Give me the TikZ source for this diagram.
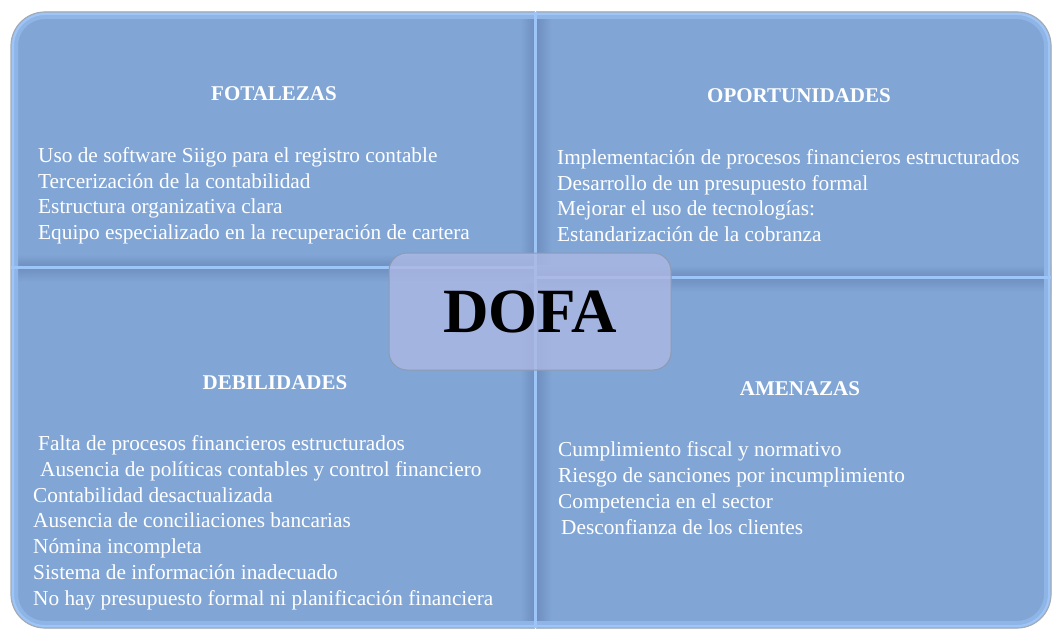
\documentclass[tikz,border=0pt]{standalone}
\usepackage{fontspec}
\setmainfont{Liberation Serif}
\definecolor{qfill}{HTML}{81A6D6}
\definecolor{qlight}{HTML}{9DC5F8}
\definecolor{qdark}{HTML}{6E8EBF}
\definecolor{qedge}{HTML}{A2AAB6}
\definecolor{cfill}{RGB}{173,184,227}
\definecolor{cedge}{HTML}{8E9AB2}
\tikzset{
  body/.style={anchor=base west, inner sep=0pt, text=white, font=\fontsize{21.3}{25}\selectfont},
  head/.style={anchor=base, inner sep=0pt, text=white, font=\fontsize{21}{25}\selectfont\bfseries},
  rim/.style={draw=qlight, line width=6pt},
  rimin/.style={draw=qlight!50!qfill, line width=14pt},
  outer/.style={draw=qedge, line width=1.2pt},
  divider/.style={draw=qlight, line width=3pt},
  centerbox/.style={draw=cedge, line width=1pt, fill=cfill, fill opacity=0.8, text opacity=1, rounded corners=18pt, minimum width=282pt, minimum height=117pt, inner sep=0pt, font=\fontsize{63}{63}\selectfont\bfseries, text=black}
}
\begin{document}
\begin{tikzpicture}[x=1pt,y=-1pt]
\useasboundingbox (0,0) rectangle (1054,631);
% ---------- TL quadrant
\begin{scope}
  \clip (11,150) [rounded corners=34pt] -- (11,12) -- (300,12) [sharp corners] -- (535,12) -- (535,267) -- (11,267) -- cycle;
  \fill[qfill] (0,0) rectangle (540,270);
  \shade[left color=qfill, right color=qdark] (520,0) rectangle (535,270);
  \shade[top color=qfill, bottom color=qdark] (0,254) rectangle (535,267);
  \draw[rimin] (11,280) [rounded corners=34pt] -- (11,12) -- (545,12);
  \draw[rim] (11,280) [rounded corners=34pt] -- (11,12) -- (545,12);
\end{scope}
\draw[outer] (11,267) [rounded corners=34pt] -- (11,12) -- (535,12);
% ---------- BL quadrant
\begin{scope}
  \clip (11,450) [rounded corners=34pt] -- (11,628) -- (300,628) [sharp corners] -- (535,628) -- (535,267) -- (11,267) -- cycle;
  \fill[qfill] (0,260) rectangle (540,631);
  \shade[left color=qfill, right color=qdark] (520,260) rectangle (535,631);
  \shade[top color=qdark, bottom color=qfill] (0,267) rectangle (535,282);
  \draw[rimin] (11,255) [rounded corners=34pt] -- (11,628) -- (545,628);
  \draw[rim] (11,255) [rounded corners=34pt] -- (11,628) -- (545,628);
\end{scope}
\draw[outer] (11,267) [rounded corners=34pt] -- (11,628) -- (535,628);
% ---------- TR quadrant
\begin{scope}
  \clip (1051,150) [rounded corners=34pt] -- (1051,12) -- (800,12) [sharp corners] -- (536,12) -- (536,277) -- (1051,277) -- cycle;
  \fill[qfill] (530,0) rectangle (1054,280);
  \shade[left color=qdark, right color=qfill] (536,0) rectangle (552,280);
  \shade[top color=qfill, bottom color=qdark] (530,265) rectangle (1054,277);
  \draw[rimin] (1051,290) [rounded corners=34pt] -- (1051,12) -- (525,12);
  \draw[rim] (1051,290) [rounded corners=34pt] -- (1051,12) -- (525,12);
\end{scope}
\draw[outer] (1051,277) [rounded corners=34pt] -- (1051,12) -- (536,12);
% ---------- BR quadrant
\begin{scope}
  \clip (1051,450) [rounded corners=34pt] -- (1051,628) -- (800,628) [sharp corners] -- (536,628) -- (536,277) -- (1051,277) -- cycle;
  \fill[qfill] (530,270) rectangle (1054,631);
  \shade[left color=qdark, right color=qfill] (536,270) rectangle (552,631);
  \shade[top color=qdark, bottom color=qfill] (530,277) rectangle (1054,292);
  \draw[rimin] (1051,265) [rounded corners=34pt] -- (1051,628) -- (525,628);
  \draw[rim] (1051,265) [rounded corners=34pt] -- (1051,628) -- (525,628);
\end{scope}
\draw[outer] (1051,277) [rounded corners=34pt] -- (1051,628) -- (536,628);
% ---------- dividers
\coordinate (vt) at (535.5,12);
\coordinate (vb) at (535.5,628);
\coordinate (hl1) at (11,267);
\coordinate (hl2) at (535.5,267);
\coordinate (hr1) at (535.5,277);
\coordinate (hr2) at (1051,277);
\draw[divider] (vt) -- (vb);
\draw[divider] (hl1) -- (hl2);
\draw[divider] (hr1) -- (hr2);
% ---------- texts TL
\node[head] (fh) at (274,101) {FOTALEZAS};
\node[body] (f1) at (38,162.5) {Uso de software Siigo para el registro contable};
\node[body] (f2) at (38,188.2) {Tercerización de la contabilidad};
\node[body] (f3) at (38,213.9) {Estructura organizativa clara};
\node[body] (f4) at (38,239.6) {Equipo especializado en la recuperación de cartera};
% ---------- texts TR
\node[head] (oh) at (799,102.5) {OPORTUNIDADES};
\node[body] (o1) at (557,164.5) {Implementación de procesos financieros estructurados};
\node[body] (o2) at (557,190.2) {Desarrollo de un presupuesto formal};
\node[body] (o3) at (557,215.8) {Mejorar el uso de tecnologías:};
\node[body] (o4) at (557,241.5) {Estandarización de la cobranza};
% ---------- texts BL
\node[head] (dh) at (275,389.5) {DEBILIDADES};
\node[body] (d1) at (38,450.5) {Falta de procesos financieros estructurados};
\node[body] (d2) at (40,476.5) {Ausencia de políticas contables y control financiero};
\node[body] (d3) at (33,502) {Contabilidad desactualizada};
\node[body] (d4) at (33,527.5) {Ausencia de conciliaciones bancarias};
\node[body] (d5) at (33,553.5) {Nómina incompleta};
\node[body] (d6) at (33,579.5) {Sistema de información inadecuado};
\node[body] (d7) at (33,605) {No hay presupuesto formal ni planificación financiera};
% ---------- texts BR
\node[head] (ah) at (800,395.5) {AMENAZAS};
\node[body] (a1) at (558,456.5) {Cumplimiento fiscal y normativo};
\node[body] (a2) at (558,482.5) {Riesgo de sanciones por incumplimiento};
\node[body] (a3) at (558,508.5) {Competencia en el sector};
\node[body] (a4) at (561,534.5) {Desconfianza de los clientes};
% ---------- center
\node[centerbox] (dofa) at (530,311.5) {DOFA};
\end{tikzpicture}
\end{document}
